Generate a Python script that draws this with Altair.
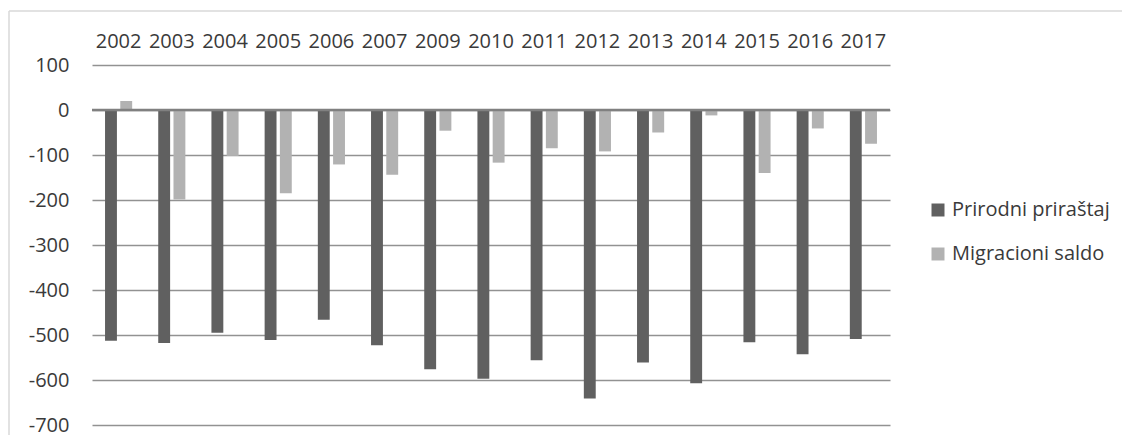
import altair as alt
import pandas as pd

years = ["2002", "2003", "2004", "2005", "2006", "2007", "2009", "2010",
         "2011", "2012", "2013", "2014", "2015", "2016", "2017"]
prirodni = [-513, -518, -495, -511, -466, -523, -576, -597,
            -556, -641, -561, -607, -516, -543, -509]
migracioni = [20, -199, -102, -185, -121, -144, -46, -117,
              -85, -92, -50, -12, -140, -41, -75]
series = ["Prirodni priraštaj", "Migracioni saldo"]
colors = ["#606060", "#b2b2b2"]
y_ticks = [100, 0, -100, -200, -300, -400, -500, -600, -700]

rows = []
for i, y in enumerate(years):
    rows.append({"year": y, "series": series[0], "value": prirodni[i]})
    rows.append({"year": y, "series": series[1], "value": migracioni[i]})
df = pd.DataFrame(rows)

FONT = "Open Sans"
TXT = "#3a3a3a"

bars = alt.Chart(df).mark_bar().encode(
    x=alt.X("year:N", sort=years,
            scale=alt.Scale(paddingInner=0.49, paddingOuter=0.245),
            axis=alt.Axis(orient="top", title=None, ticks=False, domain=False,
                          labelAngle=0, labelPadding=14, labelFontSize=20,
                          labelColor=TXT, labelFont=FONT, grid=False)),
    xOffset=alt.XOffset("series:N", sort=series,
                        scale=alt.Scale(paddingInner=0.22, paddingOuter=0)),
    y=alt.Y("value:Q",
            scale=alt.Scale(domain=[-700, 100], nice=False),
            axis=alt.Axis(values=y_ticks, title=None, ticks=False, domain=False,
                          labelExpr="'' + datum.value",
                          labelPadding=23, labelFontSize=20, labelColor=TXT,
                          labelFont=FONT, gridColor="#929292", gridWidth=1.5)),
    color=alt.Color("series:N", sort=series,
                    scale=alt.Scale(domain=series, range=colors),
                    legend=alt.Legend(title=None, orient="none", legendX=836,
                                      legendY=135, symbolType="square",
                                      symbolSize=169, symbolStrokeWidth=0,
                                      labelFontSize=20, labelFont=FONT,
                                      labelColor=TXT, rowPadding=24,
                                      labelOffset=4)),
)

zero = alt.Chart(pd.DataFrame({"v": [0]})).mark_rule(
    color="#808080", strokeWidth=2.5).encode(y="v:Q")

frame_top = alt.Chart(pd.DataFrame({"a": [0]})).mark_rule(
    color="#d9d9d9", strokeWidth=1.5).encode(
    x=alt.value(-83), x2=alt.value(1030), y=alt.value(-54))
frame_left = alt.Chart(pd.DataFrame({"a": [0]})).mark_rule(
    color="#d9d9d9", strokeWidth=1.5).encode(
    x=alt.value(-83), y=alt.value(-54), y2=alt.value(370))

chart = alt.layer(frame_top, frame_left, bars, zero).properties(
    width=798, height=360, background="white",
    padding={"left": 0, "top": 2, "right": 0, "bottom": 0},
).configure_view(stroke=None)

chart.save("out.html", embed_options={"renderer": "svg", "actions": False})
